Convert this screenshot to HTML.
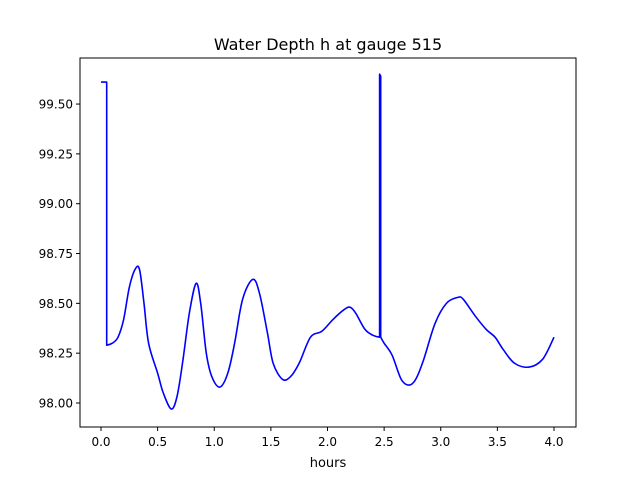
<!DOCTYPE html>
<html><head><meta charset="utf-8"><style>
body{margin:0;background:#fff;font-family:"Liberation Sans","DejaVu Sans",sans-serif}
svg text{font-family:"DejaVu Sans","Liberation Sans",sans-serif}
</style></head><body>
<svg id="chart" width="640" height="480" viewBox="0 0 640 480">
<rect width="640" height="480" fill="#fff"/>
<text x="328" y="50" font-size="16" text-anchor="middle">Water Depth h at gauge 515</text>
<text x="328" y="467" font-size="13" text-anchor="middle">hours</text>
<g id="ticks"></g>
<path id="line" fill="none" stroke="#0000ff" stroke-width="1.6" stroke-linejoin="round"/>
<rect x="80" y="58" width="496" height="369" fill="none" stroke="#000" stroke-width="1"/>
</svg>
<script>
const hours=[0,0.05,0.05,0.1,0.15,0.2,0.25,0.3,0.34,0.38,0.42,0.5,0.55,0.62,0.67,0.72,0.78,0.84,0.88,0.93,0.98,1.05,1.12,1.18,1.25,1.34,1.4,1.47,1.52,1.6,1.67,1.75,1.85,1.95,2.05,2.15,2.2,2.25,2.33,2.4,2.46,2.46,2.47,2.47,2.5,2.57,2.65,2.72,2.78,2.85,2.95,3.05,3.15,3.2,3.3,3.4,3.48,3.55,3.65,3.78,3.9,4.0];
const depth=[99.61,99.61,98.29,98.30,98.33,98.42,98.58,98.67,98.67,98.5,98.3,98.15,98.05,97.97,98.03,98.2,98.45,98.6,98.5,98.25,98.13,98.08,98.15,98.3,98.52,98.62,98.55,98.35,98.2,98.12,98.13,98.2,98.33,98.36,98.42,98.47,98.48,98.45,98.37,98.34,98.33,99.65,99.64,98.33,98.3,98.24,98.12,98.09,98.12,98.22,98.4,98.5,98.53,98.52,98.44,98.37,98.33,98.27,98.2,98.18,98.22,98.33];
const xTicks=[0,0.5,1,1.5,2,2.5,3,3.5,4];
const xTickLabels=["0.0","0.5","1.0","1.5","2.0","2.5","3.0","3.5","4.0"];
const yTicks=[98,98.25,98.5,98.75,99,99.25,99.5];
const yTickLabels=["98.00","98.25","98.50","98.75","99.00","99.25","99.50"];
const X=v=>101+v*113.25;
const Y=v=>403-(v-98)*199.3;
const ns="http://www.w3.org/2000/svg";
const g=document.getElementById('ticks');
function mk(t,a){const e=document.createElementNS(ns,t);for(const k in a)e.setAttribute(k,a[k]);g.appendChild(e);return e;}
xTicks.forEach((v,i)=>{
 const l=mk('line',{x1:X(v),x2:X(v),y1:427,y2:431,stroke:'#000'});
 
 
 const t=mk('text',{x:X(v),y:446,'font-size':12,'text-anchor':'middle'});t.textContent=xTickLabels[i];
 
 
});
yTicks.forEach((v,i)=>{
 const l=mk('line',{x1:76,x2:80,y1:Y(v),y2:Y(v),stroke:'#000'});
 
 
 const t=mk('text',{x:73,y:Y(v)+4.5,'font-size':12,'text-anchor':'end'});t.textContent=yTickLabels[i];
 
 
});
// smooth runs (Catmull-Rom), straight at jumps / tiny steps
const P=hours.map((h,i)=>[X(h),Y(depth[i])]);
let d='M'+P[0][0].toFixed(1)+','+P[0][1].toFixed(1);
const jump=i=>(hours[i+1]-hours[i])<0.02;
for(let i=0;i<P.length-1;i++){
 if(jump(i)||i==0){d+='L'+P[i+1][0].toFixed(1)+','+P[i+1][1].toFixed(1);continue;}
 const p0=(i>0&&!jump(i-1))?P[i-1]:P[i];
 const p3=(i+2<P.length&&!jump(i+1))?P[i+2]:P[i+1];
 const p1=P[i],p2=P[i+1];
 const c1=[p1[0]+(p2[0]-p0[0])/6,p1[1]+(p2[1]-p0[1])/6];
 const c2=[p2[0]-(p3[0]-p1[0])/6,p2[1]-(p3[1]-p1[1])/6];
 d+='C'+c1.map(v=>v.toFixed(1)).join(',')+' '+c2.map(v=>v.toFixed(1)).join(',')+' '+p2[0].toFixed(1)+','+p2[1].toFixed(1);
}
document.getElementById('line').setAttribute('d',d);
</script>
</body></html>
